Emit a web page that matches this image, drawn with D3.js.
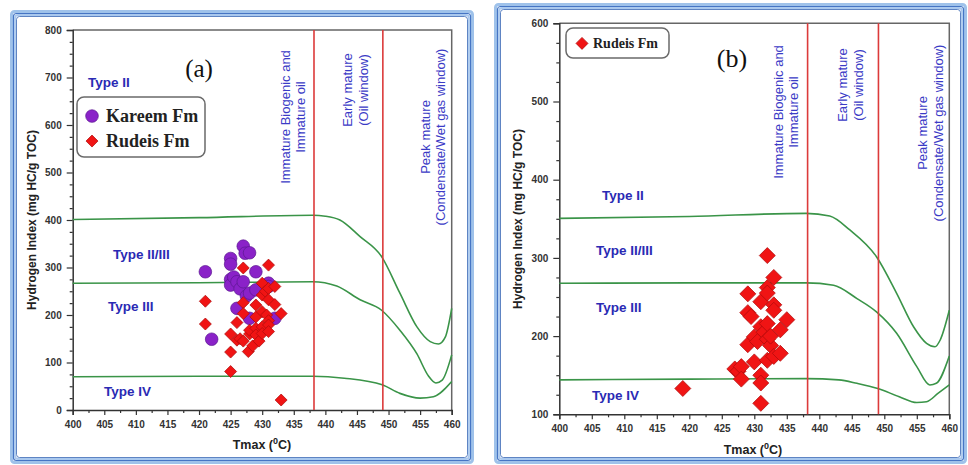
<!DOCTYPE html>
<html>
<head>
<meta charset="utf-8">
<script src="https://cdn.jsdelivr.net/npm/d3@7"></script>
<style>
  body { margin: 0; background: #fff; }
  svg { display: block; }
  .tick text { font-family: "Liberation Sans", Arial, sans-serif; font-weight: bold; font-size: 10px; fill: #333; }
</style>
</head>
<body>
<div id="chart"></div>
<script>
// Tmax (C) / Hydrogen Index pairs
var kareemA = [
  [421, 291], [422, 149], [425, 319], [425, 307], [425, 275], [425, 263], [425.5, 280],
  [426, 270], [426, 214], [426.5, 255], [427, 345], [427, 270], [427.3, 330], [427.5, 240],
  [428, 331], [428, 246], [428, 193], [429, 291], [429, 253], [431, 267], [431, 260], [432, 193]
];

var rudeisA = [
  [421, 229], [421, 181], [425, 160], [425, 122], [425, 81], [426, 184], [426, 147],
  [426.5, 150], [427, 299], [427, 226], [427, 203], [427, 145], [427.8, 123], [428, 160],
  [428, 168], [428.5, 135], [429, 221], [429, 196], [429, 172], [429, 158], [429.5, 145],
  [430, 267], [430, 242], [430, 207], [430, 175], [430, 161], [430.5, 250], [430.7, 200],
  [431, 305], [431, 256], [431, 232], [431, 188], [431, 179], [431, 165], [432, 260],
  [432, 222], [433, 203], [433, 21]
];

var rudeisB = [
  [419, 133], [427, 158], [427.5, 155], [428, 161], [428, 145], [429, 254], [429, 230],
  [429, 189], [429.5, 225], [430, 199], [430, 167], [430.5, 193], [431, 244], [431, 212],
  [431, 150], [431, 140], [431, 114], [431.5, 205], [432, 303], [432, 262], [432, 255],
  [432, 216], [432, 196], [432, 169], [432.5, 188], [432.5, 200], [433, 275], [433, 240],
  [433, 233], [433, 174], [434, 208], [434, 178], [435, 221]
];

// kerogen type boundary curves
var upperA = [[400, 401], [420, 405], [438, 410], [440, 408], [442.3, 400], [445.5, 365],
  [448.9, 323], [451.8, 246], [454.5, 175], [456.6, 144], [457.9, 139], [459, 154], [460, 214]];
var middleA = [[400, 267], [420, 268], [438, 270], [441.8, 261], [445.5, 232], [448.9, 210],
  [451.8, 168], [454.5, 118], [456.3, 72], [457.5, 57], [458.5, 63], [460, 116]];
var lowerA = [[400, 70], [420, 71], [438, 71], [443, 67], [449, 53], [451.8, 35],
  [455, 25], [457.1, 28], [460, 60]];

var upperB = [[400, 350.6], [420, 353], [438, 357], [441.6, 353.6], [444.7, 335.7], [448.8, 301.5],
  [451.9, 254.7], [454.5, 212], [456.5, 190.8], [457.8, 186.4], [458.6, 195], [460, 233]];
var middleB = [[400, 267.5], [420, 268], [438, 268], [442.2, 265], [445.8, 248], [448.8, 231],
  [451.9, 203.6], [455, 161], [457, 137.5], [458, 139.6], [460, 174.5]];
var lowerB = [[400, 144], [420, 145], [438, 145.6], [443, 144], [445.8, 139.6], [449, 133],
  [452.3, 122.5], [455, 115], [456.5, 116], [458.3, 127], [460, 137.5]];

// maturity boundaries (Tmax)
var maturityT = [438.2, 449.1];

var xTicks = [400, 405, 410, 415, 420, 425, 430, 435, 440, 445, 450, 455, 460];
var yTicksA = [0, 100, 200, 300, 400, 500, 600, 700, 800];
var yTicksB = [100, 200, 300, 400, 500, 600];

var zoneLabels = [
  ["Immature Biogenic and", "Immature oil"],
  ["Early mature", "(Oil window)"],
  ["Peak mature", "(Condensate/Wet gas window)"]
];
var typeNames = ["Type II", "Type II/III", "Type III", "Type IV"];

var svg = d3.select("#chart")
  .append("svg")
  .attr("width", 968)
  .attr("height", 465);

var sans = "'Liberation Sans', Arial, sans-serif";
var serif = "'Liberation Serif', 'Times New Roman', serif";

// panel layouts
var panels = [
  {
    frame: [10, 10, 474, 464],
    xRange: [72.7, 451.7], yDomain: [0, 800], yRange: [410, 30],
    yTicks: yTicksA, minorStep: 25,
    curves: [upperA, middleA, lowerA],
    series: [
      { data: kareemA, shape: "circle", size: 125 },
      { data: rudeisA, shape: "diamond", size: 72 }
    ],
    yLabel: [32, 220], xLabel: [262, 449], tickY: 6,
    tag: ["(a)", 199, 77, 25],
    zonePos: [[285, 300, 117], [347, 363, 90], [425, 440, 137]],
    typePos: [[88, 87], [113, 259], [108, 311], [104, 396]],
    legend: { box: [77, 97, 128, 60], items: [["circle", "Kareem Fm", 122], ["diamond", "Rudeis Fm", 147]], mx: 92, tx: 106, font: 18, msize: [125, 72] }
  },
  {
    frame: [494, 3, 967, 464],
    xRange: [559.3, 949.3], yDomain: [100, 600], yRange: [414.3, 23.3],
    yTicks: yTicksB, minorStep: 25,
    curves: [upperB, middleB, lowerB],
    series: [
      { data: rudeisB, shape: "diamond", size: 128 }
    ],
    yLabel: [518, 219], xLabel: [753, 454], tickY: 6,
    tag: ["(b)", 732, 67, 26],
    zonePos: [[778, 793, 112], [842, 858, 85], [922, 938, 133]],
    typePos: [[602, 200], [596, 255], [596, 312], [592, 400]],
    legend: { box: [566, 28, 103, 30], items: [["diamond", "Rudeis Fm", 48]], mx: 582, tx: 593, font: 14, msize: [0, 72] }
  }
];

function drawFrame(f) {
  var layers = [
    { inset: 1.5, color: "#9fc2ea", w: 3 },
    { inset: 3.5, color: "#4675c4", w: 1.2 },
    { inset: 5, color: "#a9c8ee", w: 1.8 },
    { inset: 6.5, color: "#3564b4", w: 0.8 }
  ];
  layers.forEach(function(l) {
    svg.append("rect")
      .attr("x", f[0] + l.inset)
      .attr("y", f[1] + l.inset)
      .attr("width", f[2] - f[0] - 2 * l.inset)
      .attr("height", f[3] - f[1] - 2 * l.inset)
      .attr("rx", 3)
      .attr("fill", "none")
      .attr("stroke", l.color)
      .attr("stroke-width", l.w);
  });
}

function marker(shape, size) {
  if (shape === "circle") return d3.symbol().type(d3.symbolCircle).size(size)();
  return d3.symbol().type(d3.symbolSquare).size(size)();
}

function drawPanel(p) {
  drawFrame(p.frame);

  var x = d3.scaleLinear().domain([400, 460]).range(p.xRange);
  var y = d3.scaleLinear().domain(p.yDomain).range(p.yRange);
  var g = svg.append("g");

  // plot box (top and right)
  g.append("path")
    .attr("d", `M${x(400)},${y(p.yDomain[1])}H${x(460)}V${y(p.yDomain[0])}`)
    .attr("fill", "none")
    .attr("stroke", "#666")
    .attr("stroke-width", 1.5);

  // minor ticks
  var xMinor = d3.range(402.5, 460, 5);
  var yMinor = d3.range(p.yDomain[0], p.yDomain[1], p.minorStep).filter(function(v) { return v % 100 !== 0; });

  g.append("g")
    .attr("transform", `translate(0, ${y(p.yDomain[0])})`)
    .call(d3.axisBottom(x).tickValues(xMinor).tickSize(3).tickFormat(""))
    .call(function(a) { a.select(".domain").remove(); });

  g.append("g")
    .attr("transform", `translate(${x(400)}, 0)`)
    .call(d3.axisLeft(y).tickValues(yMinor).tickSize(3).tickFormat(""))
    .call(function(a) { a.select(".domain").remove(); });

  var xAxis = g.append("g")
    .attr("transform", `translate(0, ${y(p.yDomain[0])})`)
    .call(d3.axisBottom(x).tickValues(xTicks).tickSize(5).tickPadding(p.tickY).tickFormat(d3.format("d")));

  var yAxis = g.append("g")
    .attr("transform", `translate(${x(400)}, 0)`)
    .call(d3.axisLeft(y).tickValues(p.yTicks).tickSize(6).tickPadding(5).tickFormat(d3.format("d")));

  g.selectAll(".domain").attr("stroke", "#333").attr("stroke-width", 1.5);
  g.selectAll(".tick line").attr("stroke", "#333").attr("stroke-width", 1.2);

  // type boundary curves
  var line = d3.line()
    .x(d => x(d[0]))
    .y(d => y(d[1]))
    .curve(d3.curveMonotoneX);

  g.selectAll(".typeCurve")
    .data(p.curves)
    .enter()
    .append("path")
    .attr("d", line)
    .attr("fill", "none")
    .attr("stroke", "#3a9448")
    .attr("stroke-width", 1.6);

  // maturity lines
  g.selectAll(".maturity")
    .data(maturityT)
    .enter()
    .append("line")
    .attr("x1", d => x(d))
    .attr("x2", d => x(d))
    .attr("y1", y(p.yDomain[1]))
    .attr("y2", y(p.yDomain[0]))
    .attr("stroke", "#dc3a3a")
    .attr("stroke-width", 1.6);

  // samples
  p.series.forEach(function(s) {
    g.selectAll(null)
      .data(s.data)
      .enter()
      .append("path")
      .attr("d", marker(s.shape, s.size))
      .attr("transform", d => `translate(${x(d[0])}, ${y(d[1])})` + (s.shape === "diamond" ? " rotate(45)" : ""))
      .attr("fill", s.shape === "circle" ? "#8a22c8" : "#f01414")
      .attr("stroke", s.shape === "circle" ? "#5c1890" : "#b00c0c")
      .attr("stroke-width", 0.7);
  });

  // zone labels
  p.zonePos.forEach(function(z, i) {
    [0, 1].forEach(function(k) {
      g.append("text")
        .attr("transform", `translate(${z[k]}, ${z[2]}) rotate(-90)`)
        .attr("text-anchor", "middle")
        .attr("dy", "0.35em")
        .style("font-family", sans)
        .style("font-size", "13px")
        .attr("fill", "#3b3bc6")
        .text(zoneLabels[i][k]);
    });
  });

  // type labels
  p.typePos.forEach(function(t, i) {
    g.append("text")
      .attr("x", t[0])
      .attr("y", t[1])
      .style("font-family", sans)
      .style("font-size", "13.5px")
      .style("font-weight", "bold")
      .attr("fill", "#2a2ab4")
      .text(typeNames[i]);
  });

  // axis titles
  g.append("text")
    .attr("transform", `translate(${p.yLabel[0]}, ${p.yLabel[1]}) rotate(-90)`)
    .attr("text-anchor", "middle")
    .attr("dy", "0.35em")
    .style("font-family", sans)
    .style("font-size", "12px")
    .style("font-weight", "bold")
    .attr("fill", "#222")
    .text("Hydrogen Index (mg HC/g TOC)");

  var xt = g.append("text")
    .attr("x", p.xLabel[0])
    .attr("y", p.xLabel[1])
    .attr("text-anchor", "middle")
    .style("font-family", sans)
    .style("font-size", "12.5px")
    .style("font-weight", "bold")
    .attr("fill", "#222");
  xt.append("tspan").text("Tmax (");
  xt.append("tspan").attr("dy", -5).style("font-size", "9px").text("0");
  xt.append("tspan").attr("dy", 5).text("C)");

  // panel tag
  g.append("text")
    .attr("x", p.tag[1])
    .attr("y", p.tag[2])
    .attr("text-anchor", "middle")
    .style("font-family", serif)
    .style("font-size", p.tag[3] + "px")
    .attr("fill", "#111")
    .text(p.tag[0]);

  // legend
  var lg = p.legend;
  g.append("rect")
    .attr("x", lg.box[0])
    .attr("y", lg.box[1])
    .attr("width", lg.box[2])
    .attr("height", lg.box[3])
    .attr("rx", 7)
    .attr("fill", "#fff")
    .attr("stroke", "#6a6a6a")
    .attr("stroke-width", 1.5);

  lg.items.forEach(function(it) {
    var my = it[2] - lg.font * 0.33;
    g.append("path")
      .attr("d", marker(it[0], it[0] === "circle" ? lg.msize[0] : lg.msize[1]))
      .attr("transform", `translate(${lg.mx}, ${my})` + (it[0] === "diamond" ? " rotate(45)" : ""))
      .attr("fill", it[0] === "circle" ? "#8a22c8" : "#f01414")
      .attr("stroke", it[0] === "circle" ? "#5c1890" : "#b00c0c")
      .attr("stroke-width", 0.7);
    g.append("text")
      .attr("x", lg.tx)
      .attr("y", it[2])
      .style("font-family", serif)
      .style("font-size", lg.font + "px")
      .style("font-weight", "bold")
      .attr("fill", "#222")
      .text(it[1]);
  });
}

panels.forEach(drawPanel);
</script>
</body>
</html>
